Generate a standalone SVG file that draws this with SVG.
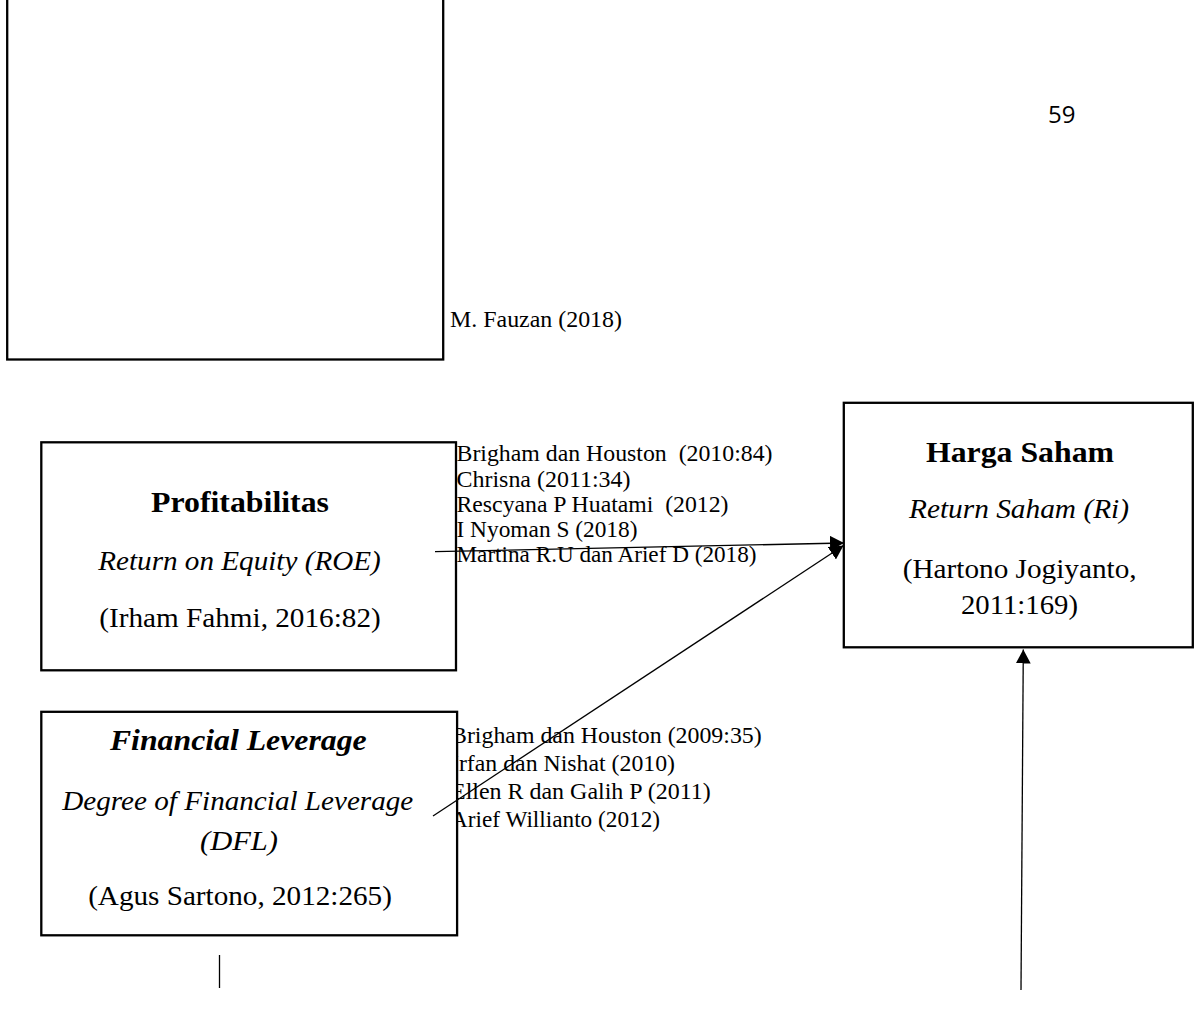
<svg xmlns="http://www.w3.org/2000/svg" width="1201" height="1011" viewBox="0 0 1201 1011">
<style>
.box{fill:#fff;stroke:#000;stroke-width:2.3}
.serif{font-family:"Liberation Serif","Times New Roman",serif;fill:#000}
.cite{font-size:23px}
.title{font-size:30px;font-weight:bold;text-anchor:middle}
.ital{font-size:27px;font-style:italic;text-anchor:middle}
.reg{font-size:27px;text-anchor:middle}
.conn{stroke:#000;stroke-width:1.3;fill:none}
</style>
<defs>
<marker id="arrow" markerUnits="userSpaceOnUse" markerWidth="14" markerHeight="15" refX="14" refY="7.5" orient="auto" viewBox="0 0 14 15">
<path d="M0,0 L14,7.5 L0,15 z" fill="#000"/>
</marker>
</defs>
<rect width="1201" height="1011" fill="#fff"/>
<text x="1048" y="122.5" font-family="'Open Sans','Noto Sans',sans-serif" font-size="24" fill="#000">59</text>
<g id="labels" class="serif cite">
<text x="450" y="326.5" font-size="24" textLength="172" lengthAdjust="spacingAndGlyphs">M. Fauzan (2018)</text>
<g id="label-roe">
<text x="456.5" y="461" textLength="316" lengthAdjust="spacingAndGlyphs" xml:space="preserve">Brigham dan Houston  (2010:84)</text>
<text x="456.5" y="486.5" textLength="174" lengthAdjust="spacingAndGlyphs">Chrisna (2011:34)</text>
<text x="456.5" y="511.5" textLength="272" lengthAdjust="spacingAndGlyphs" xml:space="preserve">Rescyana P Huatami  (2012)</text>
<text x="456.5" y="536.5" textLength="181" lengthAdjust="spacingAndGlyphs">I Nyoman S (2018)</text>
<text x="456.5" y="562" textLength="300" lengthAdjust="spacingAndGlyphs">Martina R.U dan Arief D (2018)</text>
</g>
<g id="label-dfl">
<text x="451" y="743" textLength="310.7" lengthAdjust="spacingAndGlyphs">Brigham dan Houston (2009:35)</text>
<text x="451" y="771" textLength="224" lengthAdjust="spacingAndGlyphs">Irfan dan Nishat (2010)</text>
<text x="451" y="799" textLength="259.7" lengthAdjust="spacingAndGlyphs">Ellen R dan Galih P (2011)</text>
<text x="451" y="827" textLength="209" lengthAdjust="spacingAndGlyphs">Arief Willianto (2012)</text>
</g>
</g>
<g id="node-blank">
<rect class="box" x="7.2" y="-10" width="436" height="369.5"/>
</g>
<g id="node-profitabilitas" class="serif">
<rect class="box" x="41.3" y="442.3" width="414.7" height="228"/>
<text class="title" x="240" y="511.7" textLength="178" lengthAdjust="spacingAndGlyphs">Profitabilitas</text>
<text class="ital" x="239.5" y="570" textLength="282.5" lengthAdjust="spacingAndGlyphs">Return on Equity (ROE)</text>
<text class="reg" x="240" y="626.7" textLength="281.5" lengthAdjust="spacingAndGlyphs">(Irham Fahmi, 2016:82)</text>
</g>
<g id="node-dfl" class="serif">
<rect class="box" x="41.3" y="711.8" width="415.8" height="223.5"/>
<text class="title" x="238.3" y="750" font-style="italic" textLength="256.7" lengthAdjust="spacingAndGlyphs">Financial Leverage</text>
<text class="ital" x="237.8" y="810" textLength="351" lengthAdjust="spacingAndGlyphs">Degree of Financial Leverage</text>
<text class="ital" x="239" y="850" textLength="78" lengthAdjust="spacingAndGlyphs">(DFL)</text>
<text class="reg" x="240" y="905" textLength="303.7" lengthAdjust="spacingAndGlyphs">(Agus Sartono, 2012:265)</text>
</g>
<g id="node-harga" class="serif">
<rect class="box" x="843.8" y="402.8" width="349" height="244.5"/>
<text class="title" x="1020" y="461.7" textLength="188" lengthAdjust="spacingAndGlyphs">Harga Saham</text>
<text class="ital" x="1019" y="518" textLength="220" lengthAdjust="spacingAndGlyphs">Return Saham (Ri)</text>
<text class="reg" x="1019.7" y="578" textLength="234" lengthAdjust="spacingAndGlyphs">(Hartono Jogiyanto,</text>
<text class="reg" x="1019.5" y="614" textLength="117" lengthAdjust="spacingAndGlyphs">2011:169)</text>
</g>
<g id="connectors">
<line class="conn" x1="435" y1="551.7" x2="844" y2="543" marker-end="url(#arrow)"/>
<line class="conn" x1="433" y1="816" x2="843.5" y2="545.5" marker-end="url(#arrow)"/>
<line class="conn" x1="1021" y1="990" x2="1023.3" y2="649.5" marker-end="url(#arrow)"/>
<line class="conn" x1="219.5" y1="955" x2="219.5" y2="988"/>
</g>
</svg>
